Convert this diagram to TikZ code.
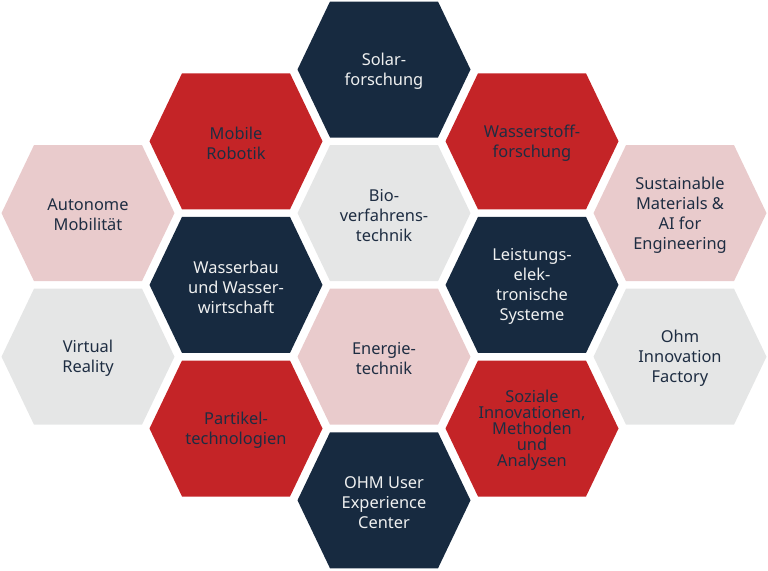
\documentclass[tikz,border=0pt]{standalone}
\usepackage{fontspec}
\setmainfont{Noto Sans}
\definecolor{ohmnavy}{HTML}{172A40}
\definecolor{ohmred}{HTML}{C42427}
\definecolor{ohmpink}{HTML}{E9CBCC}
\definecolor{ohmgray}{HTML}{E5E6E6}
\definecolor{ohmink}{HTML}{1E2D42}
% hexagon cell: centre x, centre y, fill colour
\newcommand{\hexcell}[3]{\fill[#3] (#1,#2) +(-86.5,0) -- +(-54,-68) -- +(54,-68) -- +(86.5,0) -- +(54,68) -- +(-54,68) -- cycle;}
\begin{document}
\begin{tikzpicture}[x=1pt,y=-1pt,inner sep=0pt,outer sep=0pt,
field/.style={align=center,font=\fontsize{16.4}{20}\selectfont,text=ohmink,yshift=-2pt},
fieldlight/.style={field,text=ohmgray!60!white}]
\useasboundingbox (0,0) rectangle (768,570);
\hexcell{384}{69.5}{ohmnavy}
\hexcell{236}{141.3}{ohmred}
\hexcell{532}{141.3}{ohmred}
\hexcell{88}{213.1}{ohmpink}
\hexcell{384}{213.1}{ohmgray}
\hexcell{680}{213.1}{ohmpink}
\hexcell{236}{284.9}{ohmnavy}
\hexcell{532}{284.9}{ohmnavy}
\hexcell{88}{356.7}{ohmgray}
\hexcell{384}{356.7}{ohmpink}
\hexcell{680}{356.7}{ohmgray}
\hexcell{236}{428.5}{ohmred}
\hexcell{532}{428.5}{ohmred}
\hexcell{384}{500.3}{ohmnavy}
\node[fieldlight] (solar) at (384,69.5) {Solar-\\forschung};
\node[field] (robotik) at (236,141.3) {Mobile\\Robotik};
\node[field] (wasserstoff) at (532,141.3) {Wasserstoff-\\forschung};
\node[field] (mobilitaet) at (88,213.1) {Autonome\\Mobilität};
\node[field] (bio) at (384,213.1) {Bio-\\verfahrens-\\technik};
\node[field] (materials) at (680,213.1) {Sustainable\\Materials \&\\AI for\\Engineering};
\node[fieldlight] (wasserbau) at (236,284.9) {Wasserbau\\und Wasser-\\wirtschaft};
\node[fieldlight] (leistung) at (532,284.9) {Leistungs-\\elek-\\tronische\\Systeme};
\node[field] (vr) at (88,356.7) {Virtual\\Reality};
\node[field] (energie) at (384,356.7) {Energie-\\technik};
\node[field] (factory) at (680,356.7) {Ohm\\Innovation\\Factory};
\node[field] (partikel) at (236,428.5) {Partikel-\\technologien};
\node[field,font=\fontsize{16.4}{16}\selectfont] (soziales) at (532,428.5) {Soziale\\Innovationen,\\Methoden\\und\\Analysen};
\node[fieldlight] (ux) at (384,500.3) {OHM User\\Experience\\Center};
\end{tikzpicture}
\end{document}
